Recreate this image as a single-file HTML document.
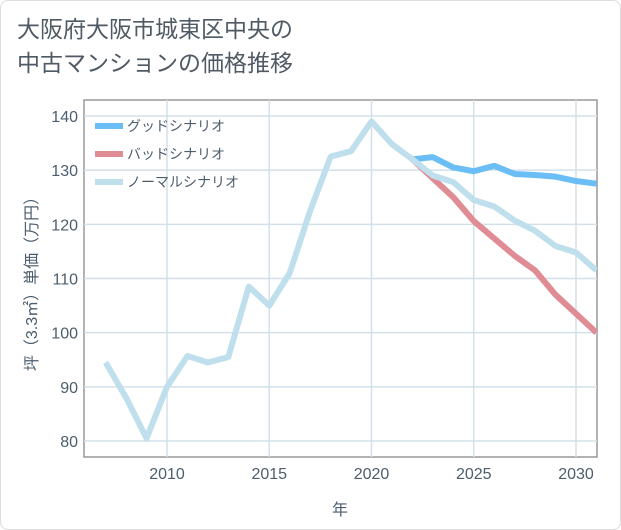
<!DOCTYPE html>
<html><head><meta charset="utf-8"><style>
body{margin:0;background:#fff;font-family:"Liberation Sans","Noto Sans CJK JP",sans-serif;}
.card{position:absolute;left:0;top:0;width:619px;height:528px;border:1px solid #ddd;border-radius:8px;background:#fff;}
.title{position:absolute;left:17px;top:12px;font-size:23px;line-height:34px;color:#505a64;}
</style></head><body>
<div class="card"></div>
<div class="title">大阪府大阪市城東区中央の<br>中古マンションの価格推移</div>
<svg id="chart" width="621" height="530" style="position:absolute;left:0;top:0"></svg>
<script>
const years=[2007,2008,2009,2010,2011,2012,2013,2014,2015,2016,2017,2018,2019,2020,2021,2022,2023,2024,2025,2026,2027,2028,2029,2030,2031];
const normal=[94.5,88,80.5,90,95.7,94.5,95.5,108.5,105,111,122.5,132.5,133.5,139,134.8,132,129,127.8,124.5,123.3,120.7,118.8,116,114.8,111.5];
const goodYears=[2022,2023,2024,2025,2026,2027,2028,2029,2030,2031];
const good=[132,132.4,130.5,129.8,130.8,129.3,129.1,128.8,128,127.5];
const badYears=[2022,2023,2024,2025,2026,2027,2028,2029,2030,2031];
const bad=[132,128.5,125,120.6,117.4,114.2,111.5,107,103.5,100];
const yTicks=[80,90,100,110,120,130,140];
const xTicks=[2010,2015,2020,2025,2030];
const L=84,R=597,T=100,B=457;
const x=v=>167+(v-2010)*20.45;
const y=v=>116+(140-v)*5.417;
const svg=document.getElementById('chart');const NS='http://www.w3.org/2000/svg';
function mk(t,a,p){const e=document.createElementNS(NS,t);for(const k in a)e.setAttribute(k,a[k]);(p||svg).appendChild(e);return e;}
let e;
const TC='#4d5d6e';
e=mk('rect',{x:L,y:T,width:R-L,height:B-T,fill:'none',stroke:'#999','stroke-width':1.5});


yTicks.forEach(v=>{
 e=mk('line',{x1:L,x2:R,y1:y(v),y2:y(v),stroke:'#d3e0ea','stroke-width':1.5});
 
 
 e=mk('text',{x:L-6,y:y(v)+6,'text-anchor':'end','font-size':16,fill:TC});e.textContent=v;
 
 
});
xTicks.forEach(v=>{
 e=mk('line',{x1:x(v),x2:x(v),y1:T,y2:B,stroke:'#d3e0ea','stroke-width':1.5});
 
 
 e=mk('text',{x:x(v),y:B+22,'text-anchor':'middle','font-size':16,fill:TC});e.textContent=v;
 
 
});
e=mk('text',{x:340,y:515,'text-anchor':'middle','font-size':16,fill:TC});e.textContent='年';


e=mk('text',{x:0,y:0,'text-anchor':'middle','font-size':16,fill:TC,transform:'translate(37,280) rotate(-90)'});e.textContent='坪（3.3㎡）単価（万円）';


const cp=mk('clipPath',{id:'c'});mk('rect',{x:L,y:T,width:R-L,height:B-T},cp);
function line(xs,vs,col,name){
 const p=mk('polyline',{points:xs.map((v,i)=>x(v)+','+y(vs[i])).join(' '),fill:'none',stroke:col,'stroke-width':6,'stroke-linejoin':'round','clip-path':'url(#c)'});
 
 
}
line(goodYears,good,'#6bbef5','good-scenario-line');
line(badYears,bad,'#e08c94','bad-scenario-line');
line(years,normal,'#bfdfec','normal-scenario-line');
const leg=[['グッドシナリオ','#6bbef5'],['バッドシナリオ','#e08c94'],['ノーマルシナリオ','#bfdfec']];
leg.forEach((l,i)=>{
 const g=mk('g',{});
 
 
 mk('line',{x1:95,x2:123,y1:126+i*28,y2:126+i*28,stroke:l[1],'stroke-width':6},g);
 const t=mk('text',{x:127,y:131+i*28,'font-size':14,fill:TC},g);t.textContent=l[0];
});
</script>
</body></html>
